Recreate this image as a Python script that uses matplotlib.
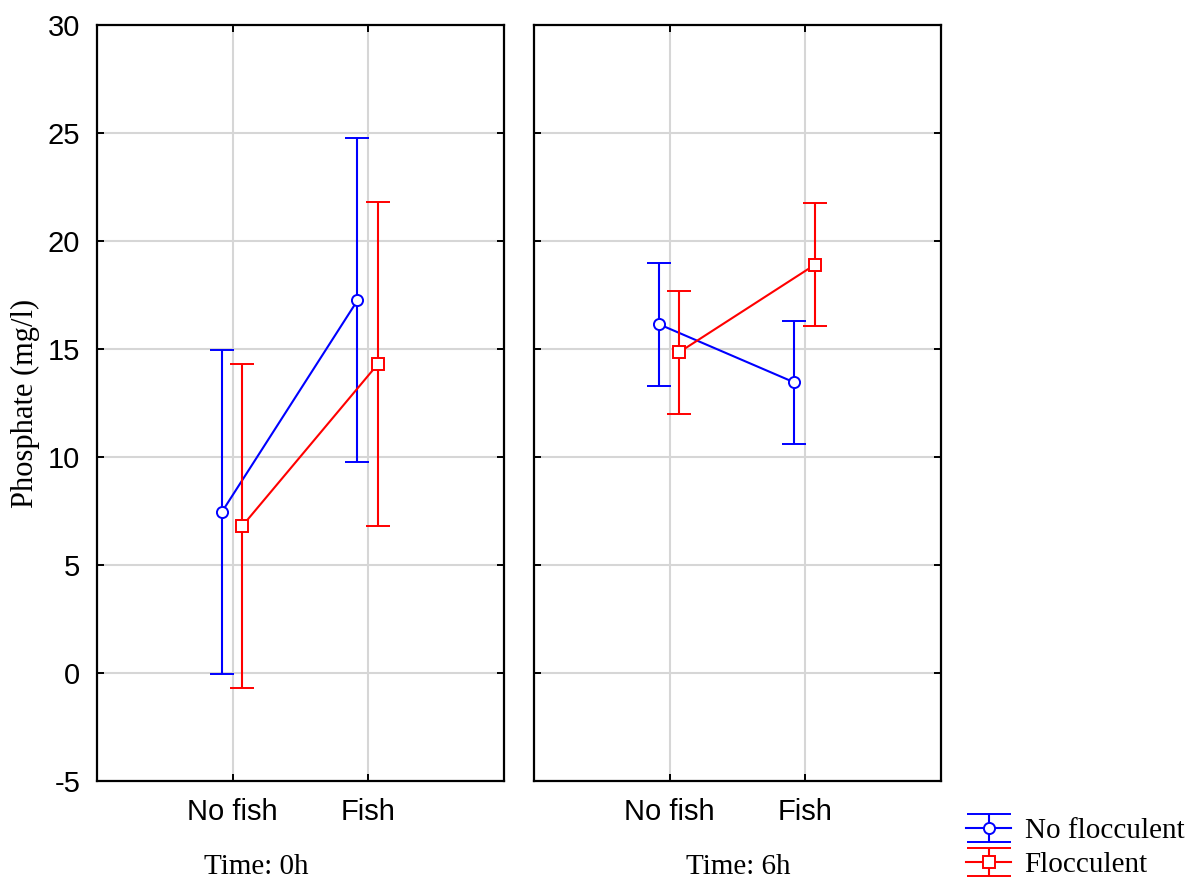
import numpy as np
import matplotlib
matplotlib.use("Agg")
import matplotlib.pyplot as plt
from matplotlib.legend_handler import HandlerErrorbar

plt.rcParams["axes.unicode_minus"] = False

# Means and +/- error for each group, one panel per sampling time
groups = ["No fish", "Fish"]
times = ["Time: 0h", "Time: 6h"]
series = ["No flocculent", "Flocculent"]

mean_0h_noflo = [7.45, 17.25]
err_0h_noflo = [7.5, 7.5]
mean_0h_flo = [6.8, 14.3]
err_0h_flo = [7.5, 7.5]

mean_6h_noflo = [16.15, 13.45]
err_6h_noflo = [2.85, 2.85]
mean_6h_flo = [14.85, 18.9]
err_6h_flo = [2.85, 2.85]

sans = ["Liberation Sans", "DejaVu Sans"]
serif = ["Liberation Serif", "DejaVu Serif"]

fig = plt.figure(figsize=(11.95, 8.83), dpi=100)
ax1 = fig.add_axes([97 / 1195, 102 / 883, 407 / 1195, 756 / 883])
ax2 = fig.add_axes([534 / 1195, 102 / 883, 407 / 1195, 756 / 883])

panels = [
    (ax1, mean_0h_noflo, err_0h_noflo, mean_0h_flo, err_0h_flo),
    (ax2, mean_6h_noflo, err_6h_noflo, mean_6h_flo, err_6h_flo),
]

x = np.arange(len(groups))
style = dict(capsize=8.5, lw=1.5, elinewidth=1.5, capthick=1.5,
             ms=8, mew=1.4, mfc="white")

for ax, m1, e1, m2, e2 in panels:
    ax.errorbar(x - 0.08, m1, yerr=e1, fmt="-o", color="blue", zorder=3, **style)
    ax.errorbar(x + 0.07, m2, yerr=e2, fmt="-s", color="red", zorder=4, **style)
    ax.set_xlim(-1, 2)
    ax.set_ylim(-5, 30)
    ax.set_xticks(x)
    ax.set_xticklabels(groups, fontfamily=sans, fontsize=21)
    ax.set_yticks(np.arange(-5, 31, 5))
    ax.grid(True, color="#d6d6d6", lw=1.5, zorder=0)
    ax.tick_params(direction="in", length=5, width=1.4, top=True, right=True,
                   labelsize=21, pad=12)
    for s in ax.spines.values():
        s.set_linewidth(1.6)

for lab in ax1.get_yticklabels():
    lab.set_fontfamily(sans)
ax2.tick_params(labelleft=False)

ax1.set_ylabel("Phosphate (mg/l)", fontfamily=serif, fontsize=22, labelpad=6)

fig.text(256 / 1195, 0.018, times[0], ha="center", va="center",
         fontfamily=serif, fontsize=21)
fig.text(738 / 1195, 0.018, times[1], ha="center", va="center",
         fontfamily=serif, fontsize=21)

# legend proxies with wide caps
proxy = dict(capsize=16, lw=1.5, elinewidth=1.5, capthick=1.5,
             ms=8, mew=1.4, mfc="white")
h1 = ax2.errorbar([np.nan], [np.nan], yerr=[np.nan], fmt="-o", color="blue", **proxy)
h2 = ax2.errorbar([np.nan], [np.nan], yerr=[np.nan], fmt="-s", color="red", **proxy)
fig.legend([h1, h2], series, loc="center left",
           bbox_to_anchor=(940 / 1195, 1 - 848 / 883),
           frameon=False, prop={"family": serif, "size": 21},
           handlelength=1.55, handletextpad=0.45, labelspacing=0.25,
           handler_map={type(h1): HandlerErrorbar(xerr_size=0.48)})

fig.savefig("out.png", dpi=100)
